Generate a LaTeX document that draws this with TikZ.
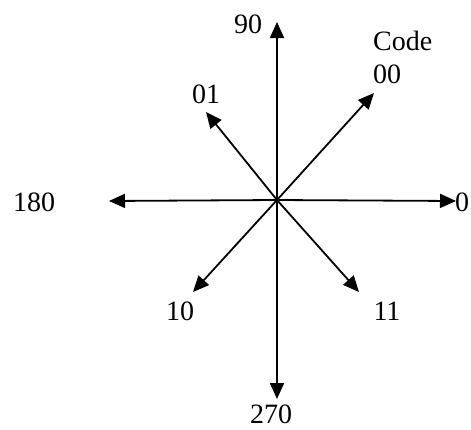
\documentclass[tikz,border=0pt]{standalone}
\usepackage{fontspec}
\setmainfont{Liberation Serif}
\usetikzlibrary{arrows.meta}
\begin{document}
\begin{tikzpicture}[x=1pt,y=-1pt,
  axis/.style={line width=1.8pt,-{Triangle[length=16pt,width=14pt]}},
  lbl/.style={inner sep=0pt,font=\fontsize{28}{32}\selectfont}]
\useasboundingbox (0,0) rectangle (471,429);
\coordinate (c) at (277,200);
\coordinate (t90) at (277,22);
\coordinate (t270) at (277,399);
\coordinate (t0) at (456,201);
\coordinate (t180) at (109,201);
\coordinate (t00) at (374,93);
\coordinate (t01) at (206,112);
\coordinate (t10) at (193,292);
\coordinate (t11) at (359,292);
\draw[axis] (c) -- (t90);
\draw[axis] (c) -- (t270);
\draw[axis] (c) -- (t0);
\draw[axis] (c) -- (t180);
\draw[axis] (c) -- (t00);
\draw[axis] (c) -- (t01);
\draw[axis] (c) -- (t10);
\draw[axis] (c) -- (t11);
\node[lbl] (l90) at (248,24) {90};
\node[lbl,anchor=base west] (lcode) at (373,50) {Code};
\node[lbl,anchor=base west] (l00) at (373,83) {00};
\node[lbl] (l01) at (206,94) {01};
\node[lbl] (l180) at (34,202) {180};
\node[lbl,anchor=west] (l0) at (455,202) {0};
\node[lbl] (l10) at (180,311) {10};
\node[lbl] (l11) at (387,311) {11};
\node[lbl] (l270) at (271,414) {270};
\end{tikzpicture}
\end{document}
